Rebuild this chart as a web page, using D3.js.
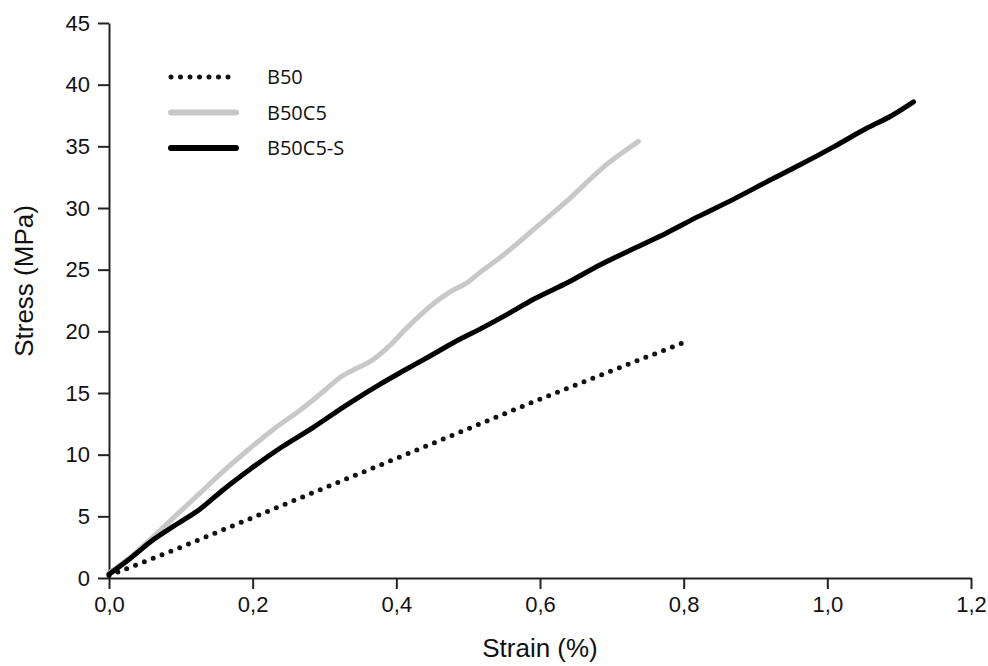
<!DOCTYPE html>
<html>
<head>
<meta charset="utf-8">
<script src="https://cdn.jsdelivr.net/npm/d3@7"></script>
<style>
  body { margin: 0; background: #fff; }
  .axis text { font-family: "Liberation Sans", Arial, sans-serif; font-size: 22px; fill: #111; }
  .axis path, .axis line { stroke: #222; stroke-width: 2; }
  .title { font-family: "Liberation Sans", Arial, sans-serif; font-size: 26px; fill: #111; }
  .legend text { font-family: "Open Sans", sans-serif; font-size: 20px; fill: #111; }
</style>
</head>
<body>
<script>
// strain (%) / stress (MPa)
const b50Strain = [0.0, 0.1, 0.2, 0.3, 0.4, 0.5, 0.6, 0.7, 0.8];
const b50Stress = [0.2, 2.5, 4.9, 7.3, 9.7, 12.1, 14.5, 16.8, 19.1];

const b50c5Strain = [0.0, 0.03, 0.057, 0.09, 0.127, 0.16, 0.196, 0.23, 0.266, 0.30, 0.325, 0.345, 0.365, 0.39, 0.415, 0.433, 0.455, 0.475, 0.50, 0.517, 0.545, 0.568, 0.59, 0.614, 0.64, 0.660, 0.688, 0.715, 0.737];
const b50c5Stress = [0.4, 1.7, 3.1, 4.9, 6.9, 8.7, 10.5, 12.1, 13.6, 15.2, 16.4, 17.0, 17.6, 18.8, 20.3, 21.3, 22.4, 23.2, 24.0, 24.8, 26.0, 27.1, 28.2, 29.4, 30.7, 31.8, 33.3, 34.5, 35.4];

const b50c5sStrain = [0.0, 0.03, 0.057, 0.09, 0.127, 0.16, 0.196, 0.24, 0.284, 0.33, 0.377, 0.41, 0.447, 0.48, 0.517, 0.555, 0.591, 0.64, 0.684, 0.73, 0.777, 0.82, 0.869, 0.915, 0.962, 1.01, 1.056, 1.09, 1.12];
const b50c5sStress = [0.3, 1.6, 2.9, 4.2, 5.6, 7.2, 8.8, 10.6, 12.2, 14.0, 15.7, 16.8, 18.0, 19.1, 20.2, 21.4, 22.6, 24.0, 25.4, 26.7, 28.0, 29.3, 30.7, 32.1, 33.5, 35.0, 36.5, 37.5, 38.6];

const seriesNames = ["B50", "B50C5", "B50C5-S"];
const xTicks = [0, 0.2, 0.4, 0.6, 0.8, 1.0, 1.2];
const yTicks = [0, 5, 10, 15, 20, 25, 30, 35, 40, 45];

var svgWidth = 988, svgHeight = 666;
var margin = { top: 23, right: 17, bottom: 88, left: 109 };
var chartWidth = svgWidth - margin.left - margin.right;
var chartHeight = svgHeight - margin.top - margin.bottom;

var svg = d3.select("body").append("svg")
  .attr("width", svgWidth)
  .attr("height", svgHeight);

var chartGroup = svg.append("g")
  .attr("transform", `translate(${margin.left}, ${margin.top})`);

var xScale = d3.scaleLinear().domain([0, 1.2]).range([0, chartWidth]);
var yScale = d3.scaleLinear().domain([0, 45]).range([chartHeight, 0]);

var fmtComma = d => d3.format(".1f")(d).replace(".", ",");

chartGroup.append("g")
  .attr("class", "axis")
  .attr("transform", `translate(0, ${chartHeight})`)
  .call(d3.axisBottom(xScale).tickValues(xTicks).tickFormat(fmtComma).tickSize(11).tickSizeOuter(0).tickPadding(7));

chartGroup.append("g")
  .attr("class", "axis")
  .call(d3.axisLeft(yScale).tickValues(yTicks).tickSize(11).tickSizeOuter(0).tickPadding(8));

// make series
var series = [
  { name: seriesNames[0], x: b50Strain, y: b50Stress, color: "#111", dash: "0 9.5" },
  { name: seriesNames[1], x: b50c5Strain, y: b50c5Stress, color: "#c8c8c8", dash: null },
  { name: seriesNames[2], x: b50c5sStrain, y: b50c5sStress, color: "#000", dash: null }
];

var line = d3.line()
  .x(d => xScale(d[0]))
  .y(d => yScale(d[1]))
  .curve(d3.curveMonotoneX);

series.forEach(s => {
  var pts = s.x.map((v, i) => [v, s.y[i]]);
  chartGroup.append("path")
    .datum(pts)
    .attr("fill", "none")
    .attr("stroke", s.color)
    .attr("stroke-width", 5)
    .attr("stroke-linecap", "round")
    .attr("stroke-linejoin", "round")
    .attr("stroke-dasharray", s.dash)
    .attr("d", line);
});

// legend
var legend = svg.append("g").attr("class", "legend");
series.forEach((s, i) => {
  var ly = 77 + i * 35.5;
  legend.append("line")
    .attr("x1", 171).attr("x2", 236)
    .attr("y1", ly).attr("y2", ly)
    .attr("stroke", s.color)
    .attr("stroke-width", s.dash ? 5 : 6)
    .attr("stroke-linecap", "round")
    .attr("stroke-dasharray", s.dash);
  legend.append("text")
    .attr("x", 267).attr("y", ly + 7)
    .text(s.name);
});

// axis titles
svg.append("text")
  .attr("class", "title")
  .attr("text-anchor", "middle")
  .attr("x", 540)
  .attr("y", 657)
  .text("Strain (%)");

svg.append("text")
  .attr("class", "title")
  .attr("text-anchor", "middle")
  .attr("transform", `translate(33, 281) rotate(-90)`)
  .text("Stress (MPa)");
</script>
</body>
</html>
